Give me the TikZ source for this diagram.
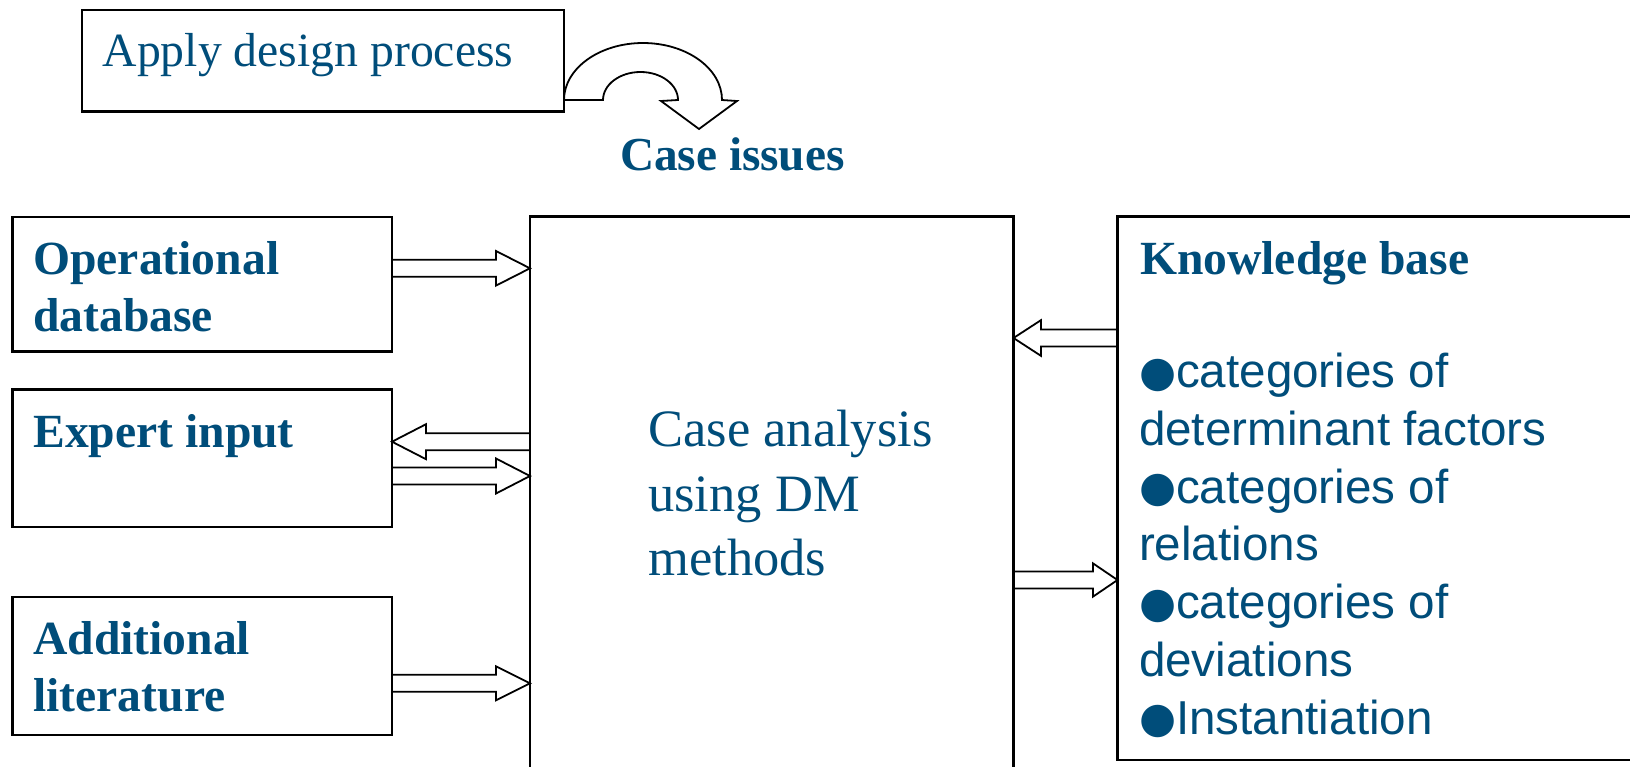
\documentclass[tikz,border=0pt]{standalone}
\usepackage{fontspec}
\setmainfont{Liberation Serif}
\newfontfamily\arialf{Liberation Sans}
\newfontfamily\dejaf{DejaVu Sans}
\usetikzlibrary{calc}
\definecolor{txtblue}{RGB}{0,77,122}
\newcommand\kbul{\raisebox{1.5pt}{\dejaf\fontsize{42.5}{57.7}\selectfont ●}}
\tikzset{
  box/.style={draw=black, line width=2.2pt, anchor=north west, inner sep=0pt, outer sep=0pt},
  lbl/.style={anchor=base west, inner sep=0pt, outer sep=0pt, text=txtblue, align=left},
  barrow/.style={draw=black, line width=1.8pt, line join=miter},
}
\newcommand\blockarrow[5]{%
  \draw[barrow] let \p1=#1, \p2=#2, \p3=(0,#3), \n1={(\x2-\x1)/abs(\x2-\x1)} in
    (\x1,\y3+8.5pt) -- (\x2-\n1*#4,\y3+8.5pt) -- (\x2-\n1*#4,\y3+#5) -- (\x2,\y3)
    -- (\x2-\n1*#4,\y3-#5) -- (\x2-\n1*#4,\y3-8.5pt) -- (\x1,\y3-8.5pt);
}
\begin{document}
\begin{tikzpicture}[x=1pt,y=-1pt]
\fill[white] (0,0) rectangle (1630,766);
\useasboundingbox (0,0) rectangle (1630,766);
\clip (0,0) rectangle (1630,766);

% boxes
\node[box, minimum width=482pt, minimum height=101.5pt] (apply) at (82,10) {};
\node[box, minimum width=379.5pt, minimum height=134.5pt] (op) at (12.5,217) {};
\node[box, minimum width=379.5pt, minimum height=137.5pt] (exp) at (12.5,389.5) {};
\node[box, minimum width=379.5pt, minimum height=138pt] (add) at (12.5,597) {};
\node[box, minimum width=483.5pt, minimum height=620pt] (cen) at (530,216.5) {};
\node[box, minimum width=580pt, minimum height=543.5pt] (kb) at (1117.5,216.5) {};

% texts (multi-line nodes: base = last line)
\node[lbl, font=\fontsize{47.7}{57}\selectfont] (applyt) at (102.7,66.7) {Apply design process};
\node[lbl, font=\bfseries\fontsize{47.3}{57}\selectfont] (issues) at (620,170) {Case issues};
\node[lbl, font=\bfseries\fontsize{47.6}{57.7}\selectfont] (opt) at (33.3,331.7) {Operational\\database};
\node[lbl, font=\bfseries\fontsize{47.6}{57.7}\selectfont] (expt) at (33.3,447.3) {Expert input};
\node[lbl, font=\bfseries\fontsize{47.6}{57.7}\selectfont] (addt) at (33.3,711.7) {Additional\\literature};
\node[lbl, font=\fontsize{52.5}{64.3}\selectfont] (cent) at (648.3,575.3) {Case analysis\\using DM\\methods};
\node[lbl, font=\bfseries\fontsize{47.6}{57.7}\selectfont] (kbt) at (1140,274) {Knowledge base};
\node[lbl, font=\arialf\fontsize{47.6}{57.7}\selectfont] (kbl) at (1139,734)
  {\kbul categories of\\determinant factors\\\kbul categories of\\relations\\\kbul categories of\\deviations\\\kbul Instantiation};

% curved arrow
\draw[barrow] ($(apply.south east)+(0,-11.5)$)
  arc[start angle=180, end angle=360, x radius=79, y radius=57]
  -- (737,101) -- (699,129) -- (661,101) -- (678,100)
  arc[start angle=0, end angle=-180, x radius=37.5, y radius=28] -- cycle;

% block arrows
\blockarrow{(op.east)}{(cen.west)}{268.3}{34pt}{17.3pt}
\blockarrow{(cen.west)}{(exp.east)}{441.7}{34pt}{17.5pt}
\blockarrow{(exp.east)}{(cen.west)}{476}{34pt}{17.5pt}
\blockarrow{(add.east)}{(cen.west)}{683.3}{34pt}{17pt}
\blockarrow{(kb.west)}{(cen.east)}{338}{27.4pt}{17.8pt}
\blockarrow{(cen.east)}{(kb.west)}{580}{24.6pt}{16.7pt}
\end{tikzpicture}
\end{document}
